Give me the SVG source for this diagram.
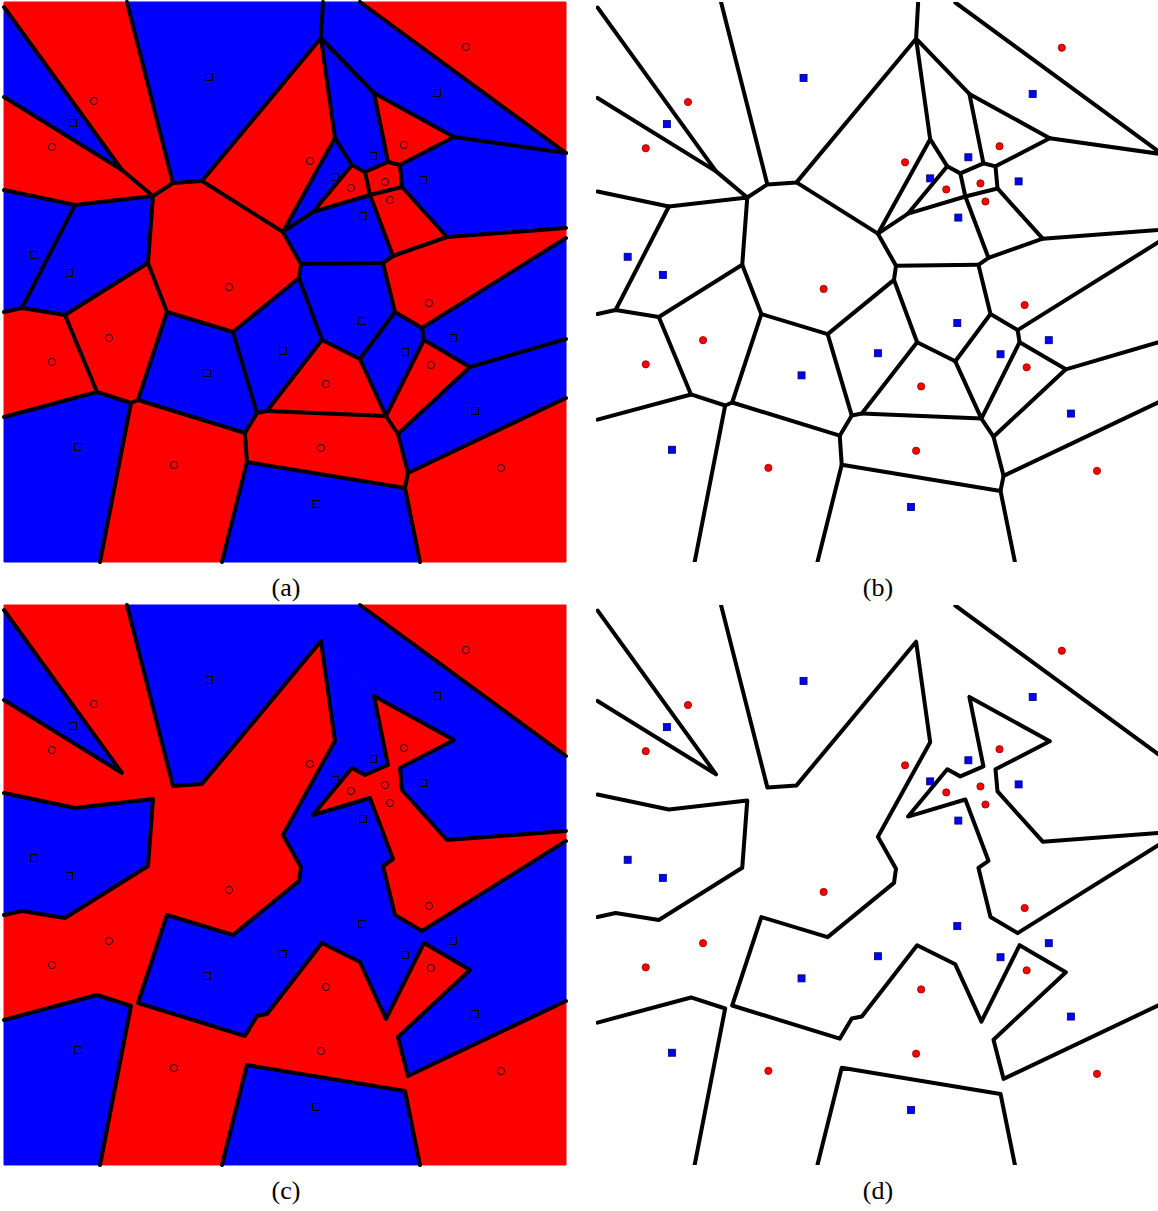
<svg xmlns="http://www.w3.org/2000/svg" xmlns:xlink="http://www.w3.org/1999/xlink" width="1158" height="1211" viewBox="0 0 1158 1211">
<style>
.r{fill:#ff0000;stroke:#ff0000;stroke-width:1}
.b{fill:#0000ff;stroke:#0000ff;stroke-width:1}
.edge{fill:none;stroke:#000;stroke-width:4;stroke-linecap:round;stroke-linejoin:round}
.ca{fill:none;stroke:#2a0000;stroke-width:1}
.sa{fill:none;stroke:#000;stroke-width:1}
.cb{fill:#ff0000;stroke:#8a0000;stroke-width:0.8}
.sb{fill:#0000ff;stroke:#000060;stroke-width:0.8}
.lbl{font-family:"Liberation Serif","DejaVu Serif",serif;font-size:26px;fill:#000;text-anchor:middle}
</style>
<defs>
<clipPath id="clipB" clipPathUnits="userSpaceOnUse"><rect x="596" y="2" width="562" height="560"/></clipPath>
<clipPath id="clipD" clipPathUnits="userSpaceOnUse"><rect x="596" y="605" width="562" height="560"/></clipPath>
<g id="cells">
<polygon class="r" points="4,2 127,2 173,183 153,196 122,170 4,7"/>
<polygon class="b" points="4,7 122,170 4,97"/>
<polygon class="r" points="4,97 122,170 153,196 75,205 4,190"/>
<polygon class="b" points="127,2 323,2 321,38 202,181 173,183"/>
<polygon class="r" points="153,196 173,183 202,181 283,232 301,264 299,278 233,332 167,312 148,263"/>
<polygon class="r" points="202,181 321,38 335,138 283,232"/>
<polygon class="b" points="323,2 360,2 566,153 454,137 374,93 321,38"/>
<polygon class="r" points="360,2 566,2 566,153"/>
<polygon class="b" points="321,38 374,93 388,162 365,172 352,165 335,138"/>
<polygon class="r" points="374,93 454,137 400,165 388,162"/>
<polygon class="b" points="335,138 352,165 313,212 283,232"/>
<polygon class="r" points="352,165 365,172 370,195 313,212"/>
<polygon class="r" points="365,172 388,162 400,165 402,187 370,195"/>
<polygon class="b" points="400,165 454,137 566,153 566,228 447,237 402,187"/>
<polygon class="r" points="370,195 402,187 447,237 393,256"/>
<polygon class="b" points="283,232 313,212 370,195 393,256 383,263 301,264"/>
<polygon class="r" points="393,256 447,237 566,228 566,238 422,328 395,312 383,263"/>
<polygon class="b" points="301,264 383,263 395,312 360,359 322,340 299,278"/>
<polygon class="b" points="395,312 422,328 424,340 386,416 360,359"/>
<polygon class="b" points="422,328 566,238 566,339 470,367 424,340"/>
<polygon class="r" points="424,340 470,367 398,434 386,416"/>
<polygon class="r" points="322,340 360,359 386,416 267,411"/>
<polygon class="b" points="299,278 322,340 267,411 257,413 233,332"/>
<polygon class="b" points="470,367 566,339 566,398 408,473 398,434"/>
<polygon class="r" points="257,413 267,411 386,416 398,434 408,473 405,488 247,462 245,433"/>
<polygon class="r" points="408,473 566,398 566,562 420,562 405,488"/>
<polygon class="b" points="247,462 405,488 420,562 222,562"/>
<polygon class="r" points="131,403 138,400 245,433 247,462 222,562 100,562"/>
<polygon class="b" points="167,312 233,332 257,413 245,433 138,400"/>
<polygon class="r" points="65,315 148,263 167,312 138,400 131,403 97,392"/>
<polygon class="b" points="4,417 97,392 131,403 100,562 4,562"/>
<polygon class="r" points="4,312 22,308 65,315 97,392 4,417"/>
<polygon class="b" points="4,190 75,205 22,308 4,312"/>
<polygon class="b" points="75,205 153,196 148,263 65,315 22,308"/>
</g>
<path id="biEdges" class="edge" d="M4 7L122 170L4 97 M127 2L173 183L202 181L321 38L335 138L283 232L301 264L299 278L233 332L167 312L138 400L245 433L257 413L267 411L322 340L360 359L386 416L424 340L470 367L398 434L408 473L566 398 M153 196L75 205L4 190 M153 196L148 263L65 315L22 308L4 312 M360 2L566 153 M454 137L374 93L388 162L365 172L352 165L313 212L370 195L393 256L383 263L395 312L422 328L566 238 M454 137L400 165L402 187L447 237L566 228 M405 488L420 562 M405 488L247 462L222 562 M131 403L100 562 M97 392L131 403 M97 392L4 417"/>
<path id="monoEdges" class="edge" d="M122 170L153 196L173 183 M321 38L323 2 M75 205L22 308 M202 181L283 232 M321 38L374 93 M566 153L454 137 M352 165L335 138 M400 165L388 162 M313 212L283 232 M365 172L370 195 M402 187L370 195 M447 237L393 256 M383 263L301 264 M395 312L360 359 M322 340L299 278 M422 328L424 340 M566 339L470 367 M398 434L386 416L267 411 M257 413L233 332 M408 473L405 488 M247 462L245 433 M138 400L131 403 M167 312L148 263 M65 315L97 392"/>
<g id="circlesPts">
<circle cx="94" cy="101" r="3.6"/><circle cx="52" cy="147" r="3.6"/><circle cx="466" cy="47" r="3.6"/><circle cx="310" cy="161" r="3.6"/><circle cx="404" cy="145" r="3.6"/><circle cx="351" cy="188" r="3.6"/><circle cx="385" cy="182" r="3.6"/><circle cx="390" cy="200" r="3.6"/><circle cx="229" cy="287" r="3.6"/><circle cx="429" cy="303" r="3.6"/><circle cx="109" cy="338" r="3.6"/><circle cx="52" cy="362" r="3.6"/><circle cx="431" cy="365" r="3.6"/><circle cx="326" cy="384" r="3.6"/><circle cx="174" cy="465" r="3.6"/><circle cx="321" cy="448" r="3.6"/><circle cx="501" cy="468" r="3.6"/>
</g>
<g id="squaresPts">
<rect x="205.5" y="73.5" width="7" height="7"/><rect x="69.5" y="119.5" width="7" height="7"/><rect x="433.5" y="89.5" width="7" height="7"/><rect x="369.5" y="152.5" width="7" height="7"/><rect x="331.5" y="173.5" width="7" height="7"/><rect x="419.5" y="176.5" width="7" height="7"/><rect x="359.5" y="212.5" width="7" height="7"/><rect x="30.5" y="251.5" width="7" height="7"/><rect x="65.5" y="269.5" width="7" height="7"/><rect x="358.5" y="317.5" width="7" height="7"/><rect x="279.5" y="347.5" width="7" height="7"/><rect x="401.5" y="348.5" width="7" height="7"/><rect x="449.5" y="334.5" width="7" height="7"/><rect x="203.5" y="369.5" width="7" height="7"/><rect x="471.5" y="407.5" width="7" height="7"/><rect x="74.5" y="443.5" width="7" height="7"/><rect x="312.5" y="500.5" width="7" height="7"/>
</g>
</defs>
<rect width="1158" height="1211" fill="#fff"/>
<g id="panel-a">
<use xlink:href="#cells"/>
<use xlink:href="#monoEdges"/>
<use xlink:href="#biEdges"/>
<use xlink:href="#circlesPts" class="ca"/>
<use xlink:href="#squaresPts" class="sa"/>
</g>
<g id="panel-b" clip-path="url(#clipB)">
<g transform="translate(593.5,0.5) scale(1.005)">
<use xlink:href="#monoEdges"/>
<use xlink:href="#biEdges"/>
<use xlink:href="#circlesPts" class="cb"/>
<use xlink:href="#squaresPts" class="sb"/>
</g>
</g>
<g id="panel-c" transform="translate(0,603)">
<use xlink:href="#cells"/>
<use xlink:href="#biEdges"/>
<use xlink:href="#circlesPts" class="ca"/>
<use xlink:href="#squaresPts" class="sa"/>
</g>
<g id="panel-d" clip-path="url(#clipD)">
<g transform="translate(593.5,603.5) scale(1.005)">
<use xlink:href="#biEdges"/>
<use xlink:href="#circlesPts" class="cb"/>
<use xlink:href="#squaresPts" class="sb"/>
</g>
</g>
<g id="labels">
<text class="lbl" x="286" y="596">(a)</text>
<text class="lbl" x="878" y="596">(b)</text>
<text class="lbl" x="286" y="1199">(c)</text>
<text class="lbl" x="878" y="1199">(d)</text>
</g>
</svg>
